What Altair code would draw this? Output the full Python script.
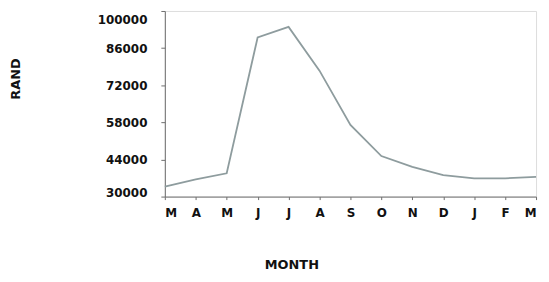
import altair as alt
import pandas as pd

months = ["M", "A", "M", "J", "J", "A", "S", "O", "N", "D", "J", "F", "M"]
rand = [33800, 36500, 38800, 90000, 94000, 77500, 57000, 45300, 41200, 38100, 36900, 36900, 37400]
y_ticks = [30000, 44000, 58000, 72000, 86000, 100000]

df = pd.DataFrame({"idx": list(range(len(months))), "month": months, "rand": rand})

label_expr = "[" + ",".join(f"'{m}'" for m in months) + "][datum.value]"

FONT = "DejaVu Sans"

chart = alt.Chart(df).mark_line(color="#8e9c9e", strokeWidth=1.8).encode(
    x=alt.X(
        "idx:Q",
        scale=alt.Scale(domain=[0, 12], nice=False, zero=False),
        axis=alt.Axis(
            values=list(range(13)),
            labelExpr=label_expr,
            title="MONTH",
            titleX=127.5,
            titleY=68,
            titleBaseline="middle",
            titleAlign="center",
            grid=False,
            tickSize=3,
            labelPadding=8,
            labelBaseline="top",
            labelFontSize=12,
            labelFontWeight="bold",
            labelColor="#111111",
            labelFont=FONT,
            titleFont=FONT,
            titleFontSize=13,
            titleFontWeight="bold",
            titleColor="#111111",
            domainColor="#6e6e6e",
            tickColor="#6e6e6e",
        ),
    ),
    y=alt.Y(
        "rand:Q",
        scale=alt.Scale(domain=[30000, 100000], nice=False, zero=False),
        axis=alt.Axis(
            values=y_ticks,
            format="d",
            title="RAND",
            titleX=-150,
            titleY=68,
            titleBaseline="middle",
            titleAlign="center",
            grid=False,
            tickSize=4,
            labelPadding=14,
            labelOffset=alt.ExprRef(
                "datum.value === 100000 ? 9 : (datum.value === 30000 ? -4 : 0)"
            ) if False else {
                "condition": [
                    {"test": "datum.value === 100000", "value": 9},
                    {"test": "datum.value === 30000", "value": -4},
                ],
                "value": 0,
            },
            labelFontSize=12,
            labelFontWeight="bold",
            labelColor="#111111",
            labelFont=FONT,
            titleFont=FONT,
            titleFontSize=13,
            titleFontWeight="bold",
            titleColor="#111111",
            domainColor="#6e6e6e",
            tickColor="#6e6e6e",
        ),
    ),
).properties(
    width=374,
    height=187,
    autosize=alt.AutoSizeParams(type="none"),
    padding={"left": 158, "top": 2, "right": 5, "bottom": 80},
).configure_view(
    stroke="#6e6e6e",
    strokeWidth=1.2,
).configure(background="white")

chart.save("out.html", embed_options={"renderer": "svg", "actions": False})
